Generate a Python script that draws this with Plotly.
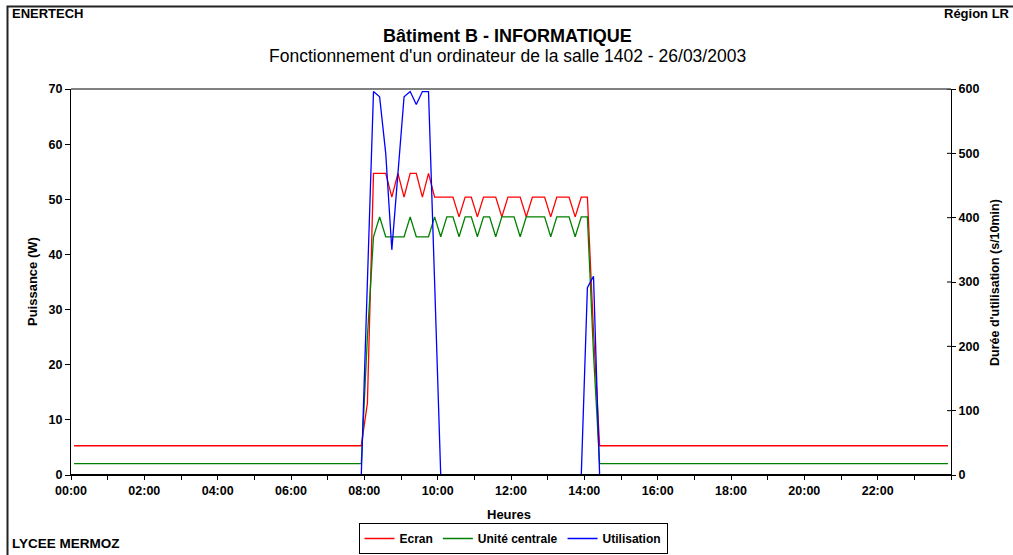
import plotly.graph_objects as go

# 10-minute slots over the day (category centres, in hours)
n_slots = 144
slot_hours = [(i + 0.5) / 6 for i in range(n_slots)]

ecran = [
    5.3, 5.3, 5.3, 5.3, 5.3, 5.3, 5.3, 5.3, 5.3, 5.3, 5.3, 5.3,
    5.3, 5.3, 5.3, 5.3, 5.3, 5.3, 5.3, 5.3, 5.3, 5.3, 5.3, 5.3,
    5.3, 5.3, 5.3, 5.3, 5.3, 5.3, 5.3, 5.3, 5.3, 5.3, 5.3, 5.3,
    5.3, 5.3, 5.3, 5.3, 5.3, 5.3, 5.3, 5.3, 5.3, 5.3, 5.3, 5.3,
    13.0, 54.7, 54.7, 54.7, 50.4, 54.7, 50.4, 54.7, 54.7, 50.4, 54.7, 50.4,
    50.4, 50.4, 50.4, 46.8, 50.4, 50.4, 46.8, 50.4, 50.4, 50.4, 46.8, 50.4,
    50.4, 50.4, 46.8, 50.4, 50.4, 50.4, 46.8, 50.4, 50.4, 50.4, 46.8, 50.4,
    50.4, 26.0, 5.3, 5.3, 5.3, 5.3, 5.3, 5.3, 5.3, 5.3, 5.3, 5.3,
    5.3, 5.3, 5.3, 5.3, 5.3, 5.3, 5.3, 5.3, 5.3, 5.3, 5.3, 5.3,
    5.3, 5.3, 5.3, 5.3, 5.3, 5.3, 5.3, 5.3, 5.3, 5.3, 5.3, 5.3,
    5.3, 5.3, 5.3, 5.3, 5.3, 5.3, 5.3, 5.3, 5.3, 5.3, 5.3, 5.3,
    5.3, 5.3, 5.3, 5.3, 5.3, 5.3, 5.3, 5.3, 5.3, 5.3, 5.3, 5.3,
]

unite_centrale = [
    2.05, 2.05, 2.05, 2.05, 2.05, 2.05, 2.05, 2.05, 2.05, 2.05, 2.05, 2.05,
    2.05, 2.05, 2.05, 2.05, 2.05, 2.05, 2.05, 2.05, 2.05, 2.05, 2.05, 2.05,
    2.05, 2.05, 2.05, 2.05, 2.05, 2.05, 2.05, 2.05, 2.05, 2.05, 2.05, 2.05,
    2.05, 2.05, 2.05, 2.05, 2.05, 2.05, 2.05, 2.05, 2.05, 2.05, 2.05, 2.05,
    25.0, 43.2, 46.8, 43.2, 43.2, 43.2, 43.2, 46.8, 43.2, 43.2, 43.2, 46.8,
    43.2, 46.8, 46.8, 43.2, 46.8, 46.8, 43.2, 46.8, 46.8, 43.2, 46.8, 46.8,
    46.8, 43.2, 46.8, 46.8, 46.8, 46.8, 43.2, 46.8, 46.8, 46.8, 43.2, 46.8,
    46.8, 22.0, 2.05, 2.05, 2.05, 2.05, 2.05, 2.05, 2.05, 2.05, 2.05, 2.05,
    2.05, 2.05, 2.05, 2.05, 2.05, 2.05, 2.05, 2.05, 2.05, 2.05, 2.05, 2.05,
    2.05, 2.05, 2.05, 2.05, 2.05, 2.05, 2.05, 2.05, 2.05, 2.05, 2.05, 2.05,
    2.05, 2.05, 2.05, 2.05, 2.05, 2.05, 2.05, 2.05, 2.05, 2.05, 2.05, 2.05,
    2.05, 2.05, 2.05, 2.05, 2.05, 2.05, 2.05, 2.05, 2.05, 2.05, 2.05, 2.05,
]

utilisation = [
    0, 0, 0, 0, 0, 0, 0, 0, 0, 0, 0, 0,
    0, 0, 0, 0, 0, 0, 0, 0, 0, 0, 0, 0,
    0, 0, 0, 0, 0, 0, 0, 0, 0, 0, 0, 0,
    0, 0, 0, 0, 0, 0, 0, 0, 0, 0, 0, 0,
    300, 596, 588, 500, 350, 470, 588, 596, 576, 596, 596, 300,
    0, 0, 0, 0, 0, 0, 0, 0, 0, 0, 0, 0,
    0, 0, 0, 0, 0, 0, 0, 0, 0, 0, 0, 0,
    291, 309, 0, 0, 0, 0, 0, 0, 0, 0, 0, 0,
    0, 0, 0, 0, 0, 0, 0, 0, 0, 0, 0, 0,
    0, 0, 0, 0, 0, 0, 0, 0, 0, 0, 0, 0,
    0, 0, 0, 0, 0, 0, 0, 0, 0, 0, 0, 0,
    0, 0, 0, 0, 0, 0, 0, 0, 0, 0, 0, 0,
]

hour_ticks = list(range(25))
hour_labels = ["%02d:00" % h if (h % 2 == 0 and h < 24) else "" for h in hour_ticks]
left_ticks = [0, 10, 20, 30, 40, 50, 60, 70]
right_ticks = [0, 100, 200, 300, 400, 500, 600]

FONT = "Liberation Sans, Arial, sans-serif"

# plot area geometry (px)
W, H = 1013, 555
L, R, T, B = 71, 62, 89, 80
PW, PH = W - L - R, H - T - B


def px(x):
    return (x - L) / PW


def py(y):
    return (H - B - y) / PH


fig = go.Figure()
fig.add_trace(go.Scatter(x=slot_hours, y=ecran, name="Ecran", mode="lines",
                         line=dict(color="#FF0000", width=1.3)))
fig.add_trace(go.Scatter(x=slot_hours, y=unite_centrale, name="Unité centrale", mode="lines",
                         line=dict(color="#008000", width=1.3)))
fig.add_trace(go.Scatter(x=slot_hours, y=utilisation, name="Utilisation", mode="lines",
                         line=dict(color="#0000FF", width=1.3), yaxis="y2"))

tickfont = dict(family=FONT, size=12.5, color="black", weight="bold")

fig.update_layout(
    width=W, height=H,
    margin=dict(l=L, r=R, t=T, b=B, autoexpand=False),
    paper_bgcolor="white", plot_bgcolor="white",
    font=dict(family=FONT, color="black"),
    xaxis=dict(range=[0, 24], tickvals=hour_ticks, ticktext=hour_labels,
               showgrid=False, zeroline=False, showline=True, linecolor="black", linewidth=1,
               ticks="outside", ticklen=4, tickcolor="black", tickfont=tickfont),
    yaxis=dict(range=[0, 70], tickvals=left_ticks, showgrid=False, zeroline=False,
               showline=True, linecolor="black", linewidth=1,
               ticks="outside", ticklen=5, tickcolor="black", tickfont=tickfont),
    yaxis2=dict(range=[0, 600], tickvals=right_ticks, overlaying="y", side="right",
                showgrid=False, zeroline=False, showline=True, linecolor="black", linewidth=1,
                ticks="outside", ticklen=4, tickcolor="black", tickfont=tickfont),
    showlegend=True,
    legend=dict(orientation="h", x=px(513), xanchor="center", y=py(538.5), yanchor="middle",
                bordercolor="black", borderwidth=1, bgcolor="white",
                font=dict(family=FONT, size=12, color="black", weight="bold"),
                itemwidth=30, tracegroupgap=0),
)

shapes = [
    # chart area border
    dict(type="rect", xref="paper", yref="paper", x0=px(7.5), x1=px(1030),
         y0=py(570), y1=py(6.5), line=dict(color="#222222", width=2)),
    # plot area top border (grey)
    dict(type="line", xref="paper", yref="paper", x0=0, x1=1, y0=1, y1=1,
         line=dict(color="#808080", width=2)),
    # category axis line drawn over the zero-valued series
    dict(type="line", xref="paper", yref="paper", x0=0, x1=1, y0=0, y1=0,
         line=dict(color="black", width=2), layer="above"),
]
for v in right_ticks:
    shapes.append(dict(type="line", xref="paper", yref="y2", x0=1 - 4 / PW, x1=1,
                       y0=v, y1=v, line=dict(color="black", width=1)))
fig.update_layout(shapes=shapes)

ann = []
ann.append(dict(text="<b>ENERTECH</b>", x=px(10), y=py(14), xanchor="left", yanchor="middle",
                font=dict(size=13)))
ann.append(dict(text="<b>Région LR</b>", x=px(1012), y=py(14), xanchor="right", yanchor="middle",
                font=dict(size=13)))
ann.append(dict(text="<b>Bâtiment B - INFORMATIQUE</b>", x=px(507), y=py(36), xanchor="center",
                yanchor="middle", font=dict(size=18)))
ann.append(dict(text="Fonctionnement d'un ordinateur de la salle 1402 - 26/03/2003", x=px(507), y=py(56),
                xanchor="center", yanchor="middle", font=dict(size=17.5)))
ann.append(dict(text="<b>LYCEE MERMOZ</b>", x=px(10), y=py(543), xanchor="left", yanchor="middle",
                font=dict(size=13.5)))
ann.append(dict(text="<b>Heures</b>", x=px(509), y=py(514), xanchor="center", yanchor="middle",
                font=dict(size=13)))
ann.append(dict(text="<b>Puissance (W)</b>", x=px(32), y=py(282), xanchor="center", yanchor="middle",
                textangle=-90, font=dict(size=13)))
ann.append(dict(text="<b>Durée d'utilisation (s/10min)</b>", x=px(995), y=py(283), xanchor="center",
                yanchor="middle", textangle=-90, font=dict(size=12.5)))
for a in ann:
    a.update(xref="paper", yref="paper", showarrow=False)
    a["font"].update(family=FONT, color="black")
fig.update_layout(annotations=ann)

fig.write_html("out.html", config={"displayModeBar": False},
               post_script="document.body.style.margin='0px';")
